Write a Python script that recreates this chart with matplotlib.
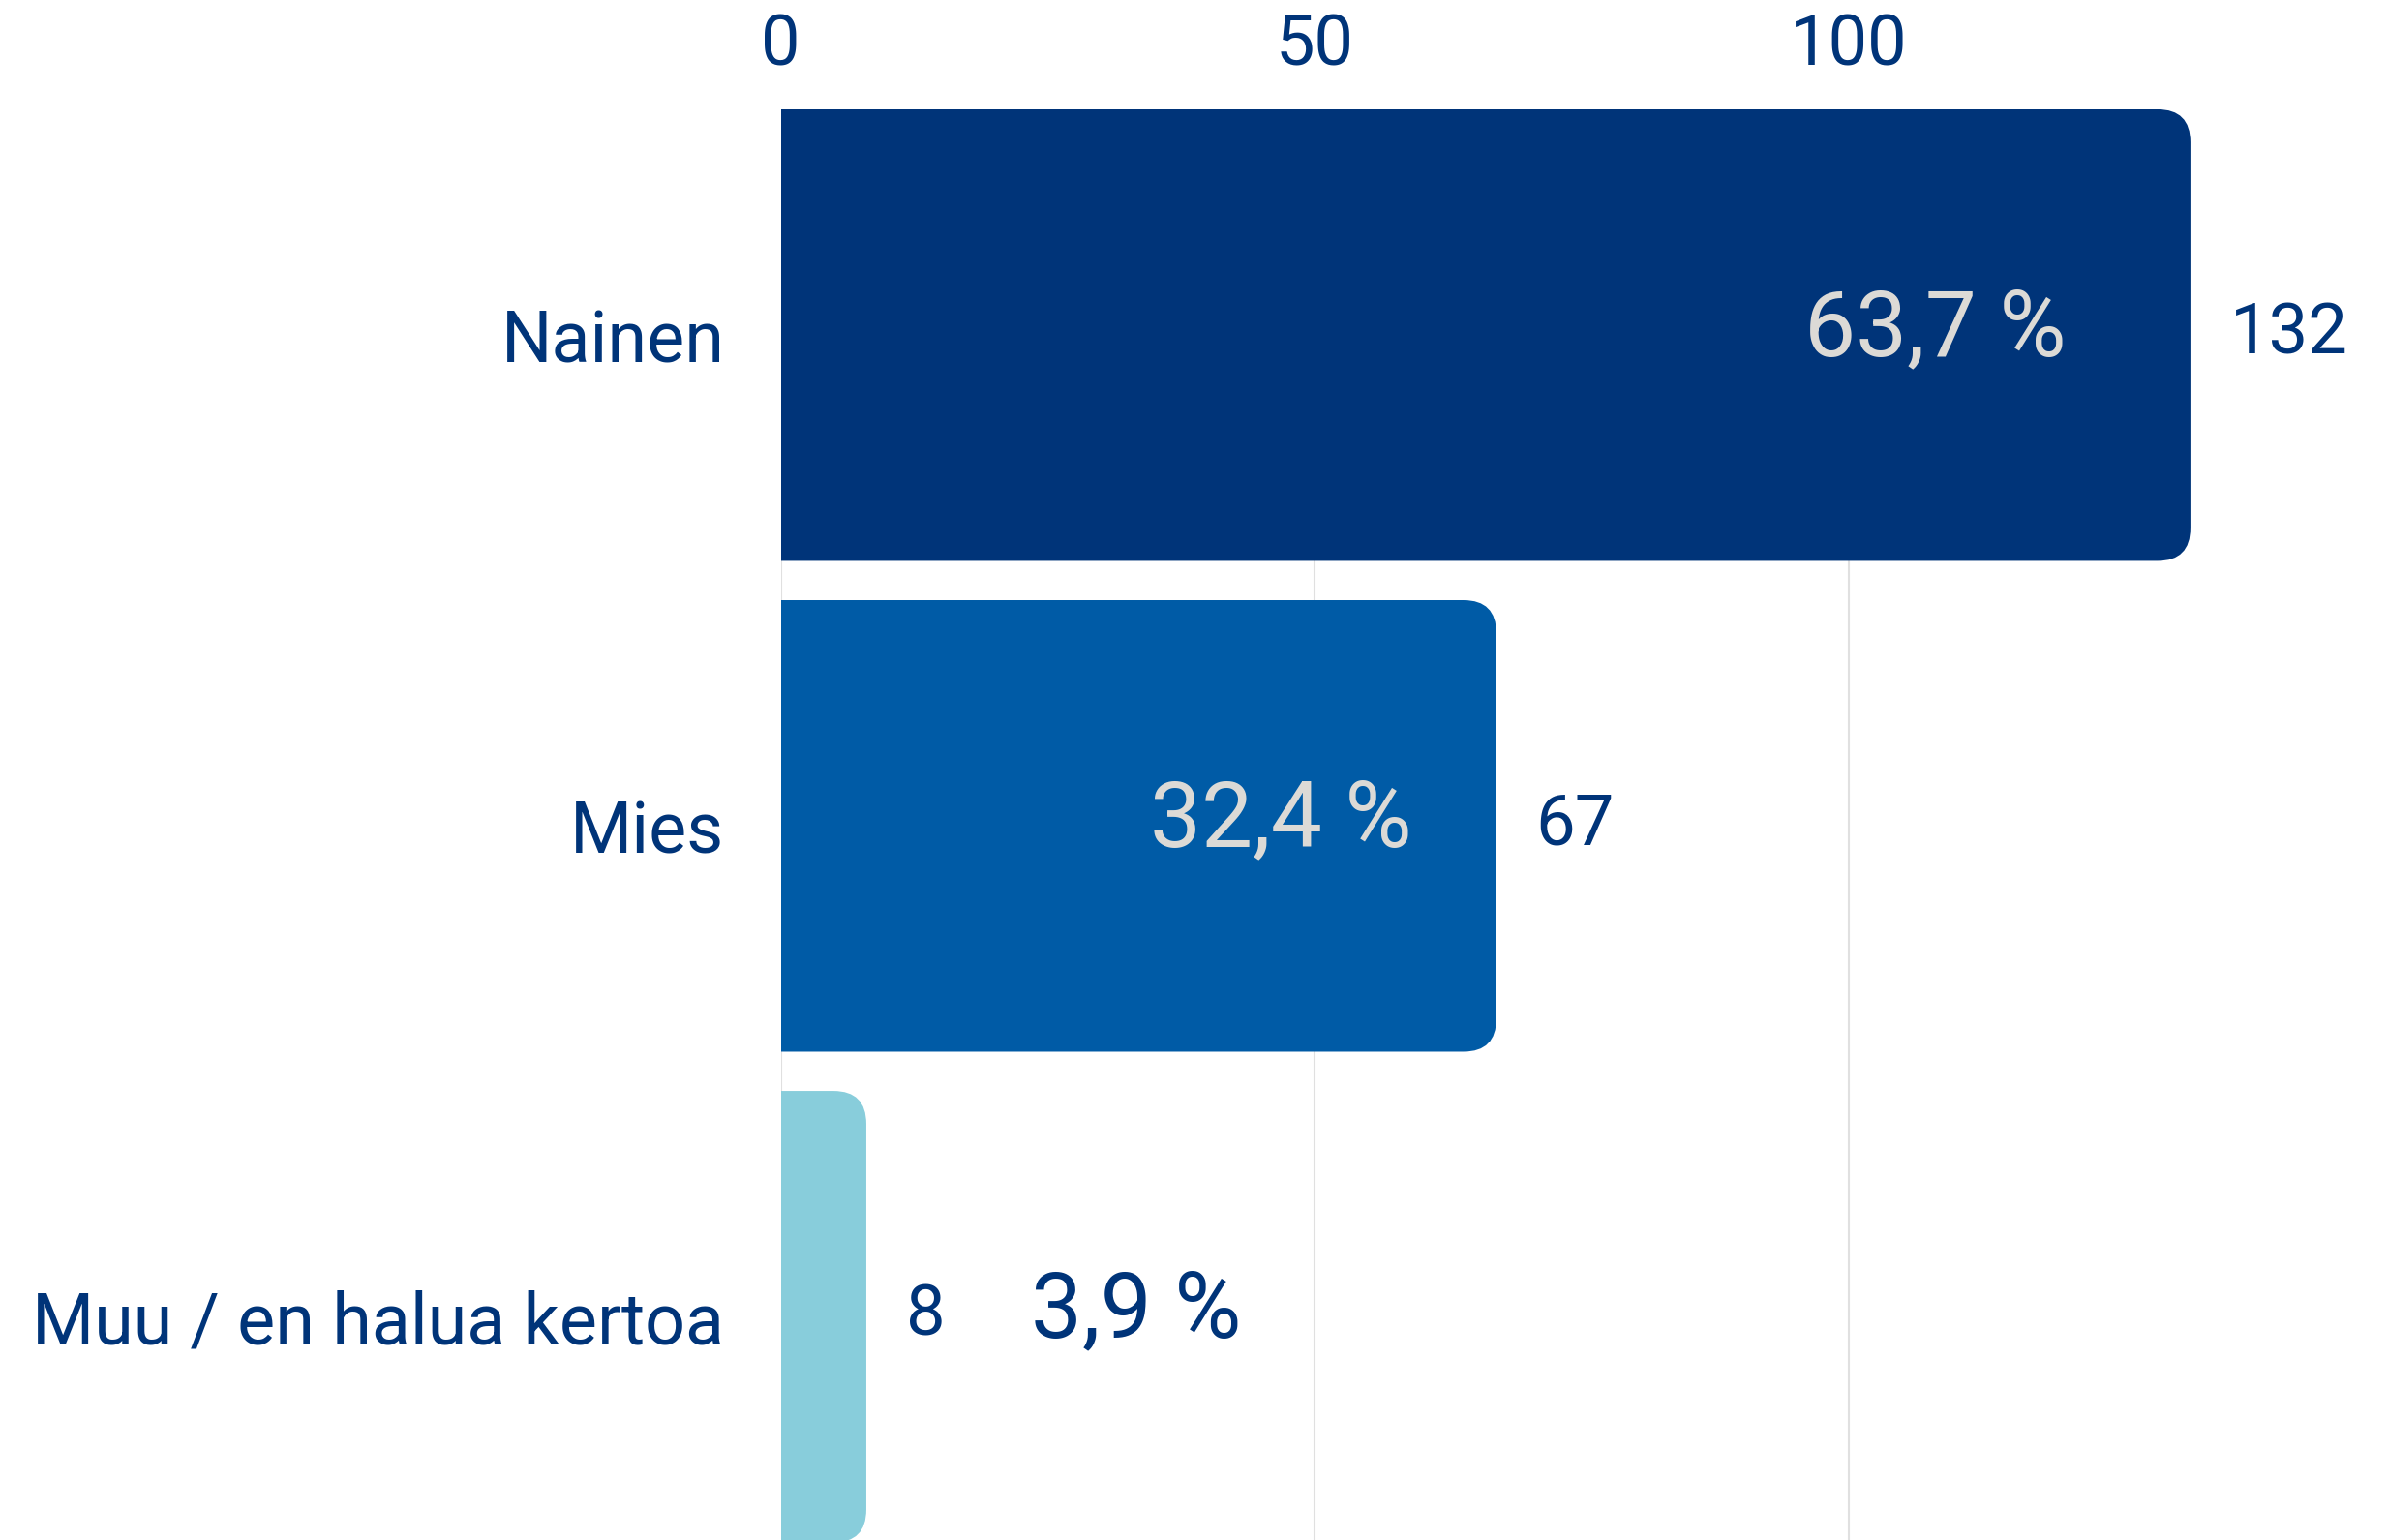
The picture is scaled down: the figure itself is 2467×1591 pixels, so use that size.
import numpy as np
import matplotlib.pyplot as plt
from matplotlib.patches import PathPatch
from matplotlib.path import Path

plt.rcParams['font.family'] = ['Roboto', 'DejaVu Sans']

categories = ['Nainen', 'Mies', 'Muu / en halua kertoa']
counts = [132, 67, 8]
shares = ['63,7 %', '32,4 %', '3,9 %']
bar_colors = ['#003479', '#005ba6', '#88cddb']
ticks = [0, 50, 100]

DARK = '#003479'
LIGHT_TEXT = '#dcdad6'

fig = plt.figure(figsize=(24.67, 15.91), dpi=100)
ax = fig.add_axes([0.327, 0.0, 0.673, 0.929])

ypos = np.arange(len(categories))
bars = ax.barh(ypos, counts, height=0.92, color=bar_colors, zorder=2)
ax.set_xlim(0, 150.5)
ax.set_ylim(2.455, -0.46)

# rounded right corners only: radius in pixels -> data units
fig_w, fig_h = fig.get_size_inches() * fig.dpi
ax_pos = ax.get_position()
px_per_x = ax_pos.width * fig_w / 150.5
px_per_y = ax_pos.height * fig_h / (2.455 + 0.46)
radius_px = 34
rx = radius_px / px_per_x
ry = radius_px / px_per_y

for rect, col in zip(bars, bar_colors):
    x0, y0 = rect.get_x(), rect.get_y()
    x1, y1 = x0 + rect.get_width(), y0 + rect.get_height()
    rect.set_visible(False)
    verts = [(x0, y0), (x1 - rx, y0), (x1, y0), (x1, y0 + ry),
             (x1, y1 - ry), (x1, y1), (x1 - rx, y1), (x0, y1), (x0, y0)]
    codes = [Path.MOVETO, Path.LINETO, Path.CURVE3, Path.CURVE3,
             Path.LINETO, Path.CURVE3, Path.CURVE3, Path.LINETO, Path.CLOSEPOLY]
    ax.add_patch(PathPatch(Path(verts, codes), facecolor=col,
                           edgecolor='none', zorder=2))

for i, (c, s) in enumerate(zip(counts, shares)):
    ax.text(c + 3.7, i, str(c), ha='left', va='center',
            fontsize=52, color=DARK, zorder=3)
    if c > 20:
        ax.text(c * 0.943 - 4.1, i - 0.01, s, ha='right', va='center',
                fontsize=68, color=LIGHT_TEXT, zorder=3)
    else:
        ax.text(c + 15.4, i - 0.01, s, ha='left', va='center',
                fontsize=68, color=DARK, zorder=3)

ax.set_yticks(ypos)
ax.set_yticklabels(categories, fontsize=53, color=DARK)
ax.set_xticks(ticks)
ax.set_xticklabels([str(t) for t in ticks], fontsize=52, color=DARK)
ax.xaxis.tick_top()
ax.tick_params(axis='x', length=0, pad=22)
ax.tick_params(axis='y', length=0, pad=42)
ax.grid(axis='x', color='#e0e0e0', linewidth=1.5, zorder=0)
ax.set_axisbelow(True)
for sp in ax.spines.values():
    sp.set_visible(False)

fig.savefig('out.png', dpi=100)
